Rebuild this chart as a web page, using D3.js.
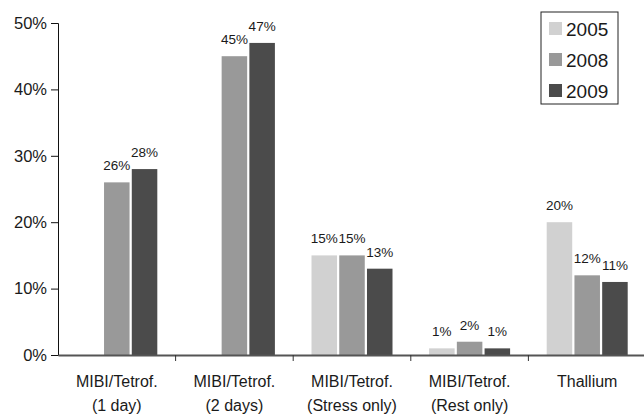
<!DOCTYPE html>
<html>
<head>
<meta charset="utf-8">
<script src="https://cdn.jsdelivr.net/npm/d3@7"></script>
<style>
  body { margin: 0; background: #fff; }
  text { font-family: "Liberation Sans", Arial, sans-serif; fill: #1a1a1a; }
</style>
</head>
<body>
<div id="chart"></div>
<script>
// data
let categories = ["MIBI/Tetrof.|(1 day)", "MIBI/Tetrof.|(2 days)", "MIBI/Tetrof.|(Stress only)", "MIBI/Tetrof.|(Rest only)", "Thallium"];
let years = ["2005", "2008", "2009"];
let values2005 = [null, null, 15, 1, 20];
let values2008 = [26, 45, 15, 2, 12];
let values2009 = [28, 47, 13, 1, 11];
let yTicks = [0, 10, 20, 30, 40, 50];

let colors = ["#d1d1d1", "#999999", "#4b4b4b"];
let series = [values2005, values2008, values2009];

let width = 644, height = 415;
let margin = {top: 23, right: 0, bottom: 60, left: 58};

let svg = d3.select("#chart").append("svg")
    .attr("width", width)
    .attr("height", height);

let x = d3.scaleBand()
    .domain(categories)
    .range([margin.left, width + 2]);

let y = d3.scaleLinear()
    .domain([0, 50])
    .range([height - margin.bottom, margin.top]);

// bar slots inside each category
let x1 = d3.scaleBand()
    .domain(years)
    .range([0, 81])
    .paddingInner(0.08);

// y axis
let yAxis = d3.axisLeft(y)
    .tickValues(yTicks)
    .tickSize(7)
    .tickFormat(d => d + "%");

let yG = svg.append("g")
    .attr("transform", `translate(${margin.left},0)`)
    .call(yAxis);
yG.select(".domain").attr("stroke", "#111");
yG.selectAll(".tick line").attr("stroke", "#111");
yG.selectAll(".tick text")
    .attr("font-size", 16.5)
    .attr("x", -11);

// bars
let groups = svg.selectAll("g.cat")
    .data(categories)
    .enter()
    .append("g")
    .attr("class", "cat")
    .attr("transform", d => `translate(${x(d) + x.bandwidth() / 2 - 40.5},0)`);

groups.each(function(cat, ci) {
    let g = d3.select(this);
    years.forEach((yr, si) => {
        let v = series[si][ci];
        if (v == null) return;
        g.append("rect")
            .attr("x", x1(yr))
            .attr("width", x1.bandwidth())
            .attr("y", y(v))
            .attr("height", y(0) - y(v))
            .attr("fill", colors[si]);
        g.append("text")
            .attr("x", x1(yr) + x1.bandwidth() / 2)
            .attr("y", y(v) - 12)
            .attr("text-anchor", "middle")
            .attr("font-size", 13.5)
            .text(v + "%");
    });
});

// x axis
let xAxis = d3.axisBottom(x).tickSize(0).tickFormat("");
let xG = svg.append("g")
    .attr("transform", `translate(0,${y(0)})`)
    .call(xAxis);
xG.select(".domain").attr("stroke", "#555").attr("stroke-width", 2);

// tick marks between categories
svg.selectAll("line.sep")
    .data(categories.slice(1))
    .enter()
    .append("line")
    .attr("class", "sep")
    .attr("x1", d => x(d))
    .attr("x2", d => x(d))
    .attr("y1", y(0))
    .attr("y2", y(0) + 6)
    .attr("stroke", "#333");

// category labels
svg.selectAll("text.cat-label")
    .data(categories)
    .enter()
    .append("text")
    .attr("class", "cat-label")
    .attr("text-anchor", "middle")
    .attr("font-size", 16)
    .each(function(d) {
        let parts = d.split("|");
        let t = d3.select(this);
        parts.forEach((p, i) => {
            t.append("tspan")
                .attr("x", x(d) + x.bandwidth() / 2)
                .attr("y", y(0) + 32 + i * 24)
                .text(p);
        });
    });

// legend
let legend = svg.append("g").attr("transform", "translate(541,12)");
legend.append("rect")
    .attr("width", 77)
    .attr("height", 92)
    .attr("fill", "#fff")
    .attr("stroke", "#222");
years.forEach((yr, i) => {
    legend.append("rect")
        .attr("x", 8)
        .attr("y", 10 + i * 31)
        .attr("width", 13)
        .attr("height", 13)
        .attr("fill", colors[i]);
    legend.append("text")
        .attr("x", 25)
        .attr("y", 23.5 + i * 31)
        .attr("font-size", 19)
        .text(yr);
});
</script>
</body>
</html>
